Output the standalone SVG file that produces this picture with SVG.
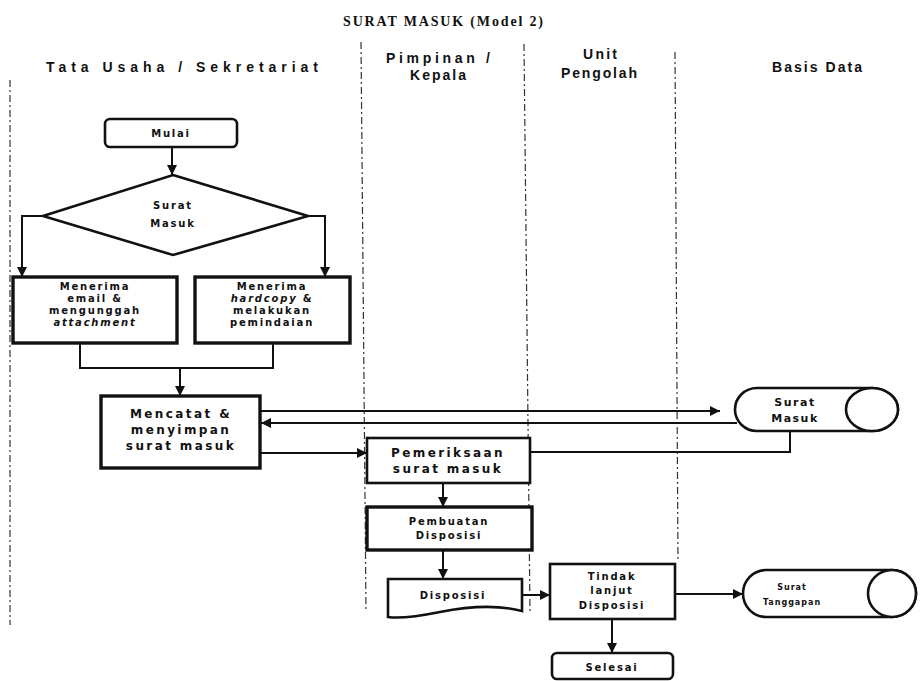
<svg xmlns="http://www.w3.org/2000/svg" width="924" height="681" viewBox="0 0 924 681">
<style>
.bg{fill:#fff}
.box{fill:#fff;stroke:#111;stroke-width:2.6}
.thick{stroke-width:3.4}
.lane{stroke:#333;stroke-width:1.2;stroke-dasharray:7 3 2 3;fill:none}
.c{fill:none;stroke:#111;stroke-width:2}
.title{font-family:"Liberation Serif",serif;font-size:14px;fill:#111;text-anchor:middle;font-weight:bold}
.hd{font-family:"Liberation Sans",sans-serif;font-size:14px;fill:#111;text-anchor:middle;font-weight:bold}
.bt{font-family:"DejaVu Sans",sans-serif;font-size:12px;font-weight:bold;fill:#111;text-anchor:middle;letter-spacing:2.4px}
.st{font-family:"DejaVu Sans",sans-serif;font-size:10px;font-weight:bold;fill:#111;text-anchor:middle;letter-spacing:1.8px}
.xs{font-family:"DejaVu Sans",sans-serif;font-size:8px;font-weight:bold;fill:#111;text-anchor:middle;letter-spacing:1px}
.it{font-style:italic}
</style>
<defs>
<marker id="ah" markerUnits="userSpaceOnUse" markerWidth="12" markerHeight="10" refX="10" refY="5" orient="auto">
<path d="M0,0 L10,5 L0,10 Z" fill="#111"/>
</marker>
</defs>
<rect class="bg" x="0" y="0" width="924" height="681"/>
<text class="title" x="443" y="26" textLength="200" lengthAdjust="spacing">SURAT MASUK (Model 2)</text>
<g id="lanes">
<line class="lane" x1="10" y1="80" x2="10" y2="625"/>
<line class="lane" x1="361" y1="42" x2="366" y2="612"/>
<line class="lane" x1="524" y1="44" x2="530" y2="612"/>
<line class="lane" x1="675" y1="52" x2="678" y2="562"/>
<text class="hd" x="182" y="72" textLength="272" lengthAdjust="spacing">Tata Usaha / Sekretariat</text>
<text class="hd" x="438" y="63" textLength="104" lengthAdjust="spacing">Pimpinan /</text>
<text class="hd" x="438" y="80" textLength="56" lengthAdjust="spacing">Kepala</text>
<text class="hd" x="600" y="59" textLength="34" lengthAdjust="spacing">Unit</text>
<text class="hd" x="599" y="78" textLength="76" lengthAdjust="spacing">Pengolah</text>
<text class="hd" x="817" y="72" textLength="90" lengthAdjust="spacing">Basis Data</text>
</g>
<g id="connectors">
<path class="c" d="M172,147 V175" marker-end="url(#ah)"/>
<path class="c" d="M43,216 H22 V277" marker-end="url(#ah)"/>
<path class="c" d="M308,216 H325 V277" marker-end="url(#ah)"/>
<path class="c" d="M80,343 V368 H273 V343"/>
<path class="c" d="M180,368 V396" marker-end="url(#ah)"/>
<path class="c" d="M260,411 H720" marker-end="url(#ah)"/>
<path class="c" d="M737,423 H261" marker-end="url(#ah)"/>
<path class="c" d="M260,453 H367" marker-end="url(#ah)"/>
<path class="c" d="M530,452 H790 V431"/>
<path class="c" d="M443,483 V507" marker-end="url(#ah)"/>
<path class="c" d="M443,550 V579" marker-end="url(#ah)"/>
<path class="c" d="M522,595 H550" marker-end="url(#ah)"/>
<path class="c" d="M612,619 V653" marker-end="url(#ah)"/>
<path class="c" d="M675,594 H743" marker-end="url(#ah)"/>
</g>
<g id="mulai">
<rect class="box" x="105" y="119" width="132" height="28" rx="5"/>
<text class="st" x="171" y="137">Mulai</text>
</g>
<g id="surat-masuk-decision">
<polygon class="box" points="173,175 308,216 173,255 43,216"/>
<text class="st" x="173" y="209">Surat</text>
<text class="st" x="173" y="227">Masuk</text>
</g>
<g id="menerima-email">
<rect class="box thick" x="13" y="277" width="164" height="66"/>
<text class="st" x="95" y="290">Menerima</text>
<text class="st" x="95" y="302">email &amp;</text>
<text class="st" x="95" y="314">mengunggah</text>
<text class="st it" x="95" y="326">attachment</text>
</g>
<g id="menerima-hardcopy">
<rect class="box thick" x="195" y="277" width="155" height="66"/>
<text class="st" x="272" y="290">Menerima</text>
<text class="st" x="272" y="302"><tspan class="it">hardcopy</tspan> &amp;</text>
<text class="st" x="272" y="314">melakukan</text>
<text class="st" x="272" y="326">pemindaian</text>
</g>
<g id="mencatat">
<rect class="box thick" x="101" y="396" width="159" height="72"/>
<text class="bt" x="181" y="418">Mencatat &amp;</text>
<text class="bt" x="181" y="434">menyimpan</text>
<text class="bt" x="181" y="450">surat masuk</text>
</g>
<g id="pemeriksaan">
<rect class="box" x="367" y="438" width="163" height="45"/>
<text class="bt" x="448" y="457">Pemeriksaan</text>
<text class="bt" x="448" y="473">surat masuk</text>
</g>
<g id="pembuatan">
<rect class="box thick" x="367" y="507" width="165" height="43"/>
<text class="st" x="449" y="525">Pembuatan</text>
<text class="st" x="449" y="539">Disposisi</text>
</g>
<g id="disposisi">
<path class="box" d="M388,579 H522 V611 C495,604 465,607 440,612 C420,616 402,619 388,617 Z"/>
<text class="st" x="453" y="599">Disposisi</text>
</g>
<g id="tindak">
<rect class="box" x="550" y="564" width="125" height="55"/>
<text class="st" x="612" y="580">Tindak</text>
<text class="st" x="612" y="594">lanjut</text>
<text class="st" x="612" y="609">Disposisi</text>
</g>
<g id="selesai">
<rect class="box" x="552" y="653" width="121" height="26" rx="5"/>
<text class="st" x="612" y="671">Selesai</text>
</g>
<g id="db-surat-masuk">
<path class="box" d="M757,388 H872 A26,21.5 0 0 1 872,431 H757 A22,21.5 0 0 1 757,388 Z"/>
<ellipse class="box" cx="872" cy="409.5" rx="26" ry="21.5"/>
<text class="bt" x="795" y="406" style="font-size:11px;letter-spacing:1.5px">Surat</text>
<text class="bt" x="795" y="422" style="font-size:11px;letter-spacing:1.5px">Masuk</text>
</g>
<g id="db-surat-tanggapan">
<path class="box" d="M766,570 H892 A24,23.5 0 0 1 892,617 H766 A23,23.5 0 0 1 766,570 Z"/>
<ellipse class="box" cx="892" cy="593.5" rx="24" ry="23.5"/>
<text class="xs" x="792" y="590">Surat</text>
<text class="xs" x="792" y="605">Tanggapan</text>
</g>
</svg>
